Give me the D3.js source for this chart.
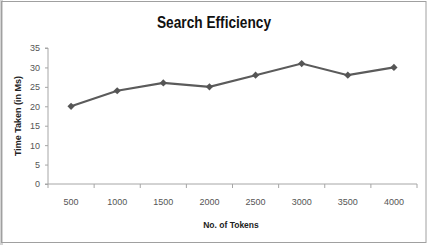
<!DOCTYPE html>
<html><head><meta charset="utf-8">
<script src="https://cdn.jsdelivr.net/npm/d3@7"></script>
<style>body{margin:0;background:#fff}svg{display:block}</style>
</head><body>
<svg id="c" width="428" height="245"></svg>
<script>
const categories = ["500","1000","1500","2000","2500","3000","3500","4000"];
const values = [20, 24, 26, 25, 28, 31, 28, 30];
const yTicks = [0,5,10,15,20,25,30,35];
const title = "Search Efficiency";
const xTitle = "No. of Tokens";
const yTitle = "Time Taken (in Ms)";

const svg = d3.select("#c");
const W = 428, H = 245;
// chart frame
svg.append("rect").attr("x",0).attr("y",0).attr("width",3).attr("height",H).attr("fill","#d4d4d4");
svg.append("rect").attr("x",1.5).attr("y",1.5).attr("width",424.5).attr("height",241).attr("fill","none").attr("stroke","#a0a0a0").attr("stroke-width",1);

const m = {l:48, r:417, t:48, b:184};
const x = d3.scaleBand().domain(categories).range([m.l, m.r]);
const y = d3.scaleLinear().domain([0,35]).range([m.b, m.t]);

const font = "'Liberation Sans Narrow', 'Liberation Sans', Arial, sans-serif";

// y axis
const ya = svg.append("g").attr("transform",`translate(${m.l},0)`)
  .call(d3.axisLeft(y).tickValues(yTicks).tickSize(3).tickPadding(5));
ya.select(".domain").attr("stroke","#a6a6a6").attr("d",`M-3,${m.b}H0V${m.t}H-3`);
ya.selectAll(".tick line").attr("stroke","#a6a6a6");
ya.selectAll("text").attr("fill","#555").attr("font-size","9px").attr("font-family",font);

// x axis
const xa = svg.append("g").attr("transform",`translate(0,${m.b})`)
  .call(d3.axisBottom(x).tickSize(0).tickPadding(15));
xa.select(".domain").attr("stroke","#a6a6a6").attr("d",`M${m.l},0H${m.r}`);
xa.selectAll("text").attr("fill","#555").attr("font-size","9px").attr("font-family",font);
// boundary ticks between categories
const bounds = categories.map(c => x(c)).concat([m.r]);
svg.append("g").selectAll("line").data(bounds).join("line")
  .attr("x1",d=>d).attr("x2",d=>d).attr("y1",m.b).attr("y2",m.b+4)
  .attr("stroke","#a6a6a6");

// line
const line = d3.line().x((d,i)=>x(categories[i])+x.bandwidth()/2).y(d=>y(d));
svg.append("path").datum(values).attr("d",line).attr("fill","none")
  .attr("stroke","#5b5b5b").attr("stroke-width",2.2);
svg.append("g").selectAll("path").data(values).join("path")
  .attr("d", d3.symbol(d3.symbolSquare, 26))
  .attr("transform",(d,i)=>`translate(${x(categories[i])+x.bandwidth()/2},${y(d)}) rotate(45)`)
  .attr("fill","#555");

// titles
svg.append("text").attr("x",214).attr("y",28).attr("text-anchor","middle")
  .attr("font-family",font).attr("font-weight","bold").attr("font-size","17px")
  .attr("fill","#111").attr("textLength",114).attr("lengthAdjust","spacingAndGlyphs").text(title);
svg.append("text").attr("x",231).attr("y",228).attr("text-anchor","middle")
  .attr("font-family",font).attr("font-weight","bold").attr("font-size","8.5px")
  .attr("fill","#222").text(xTitle);
svg.append("text").attr("transform","translate(21,116) rotate(-90)").attr("text-anchor","middle")
  .attr("font-family",font).attr("font-weight","bold").attr("font-size","9px")
  .attr("fill","#222").text(yTitle);
</script>
</body></html>
